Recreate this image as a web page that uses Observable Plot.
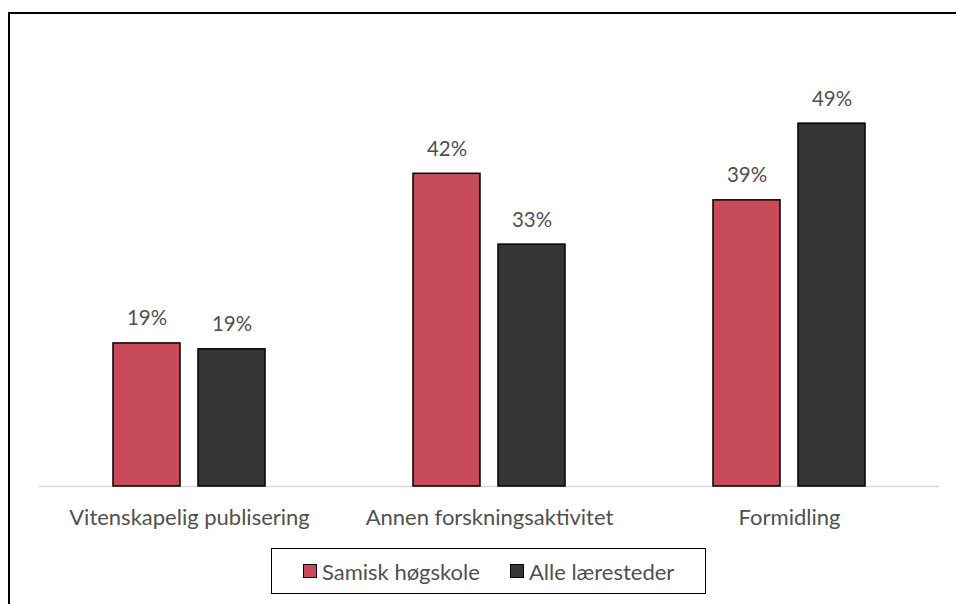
<!DOCTYPE html>
<html><head><meta charset="utf-8">
<script src="https://cdn.jsdelivr.net/npm/d3@7"></script>
<script src="https://cdn.jsdelivr.net/npm/@observablehq/plot@0.6"></script>
<style>
body{margin:0;background:#fff;}
#wrap{position:relative;width:956px;height:604px;overflow:hidden;font-family:Lato,sans-serif;background:#fff;}
#frame{position:absolute;left:8px;top:12px;width:1000px;height:700px;border-top:2px solid #000;border-left:2px solid #000;}
#chart{position:absolute;left:0;top:0;}
#legend{position:absolute;left:271px;top:548px;background:#fff;border:1.5px solid #000;display:flex;align-items:center;padding-left:31px;box-sizing:border-box;width:435px;height:46px;}
.item{display:flex;align-items:center;margin-right:30px;font-size:22px;color:#505050;}
.sw{width:12px;height:12px;border:1.5px solid #000;margin-right:5px;}
</style>
</head><body>
<div id="wrap"><div id="frame"></div><div id="chart"></div><div id="legend"></div></div>
<script>
const categories = ["Vitenskapelig publisering", "Annen forskningsaktivitet", "Formidling"];
const series = ["Samisk høgskole", "Alle læresteder"];
const samisk = [19.4, 42.4, 38.8];
const alle = [18.6, 32.8, 49.2];
const colors = ["#c84b5a", "#363636"];

const values = [samisk, alle];
const data = [];
categories.forEach((c, i) => series.forEach((s, j) => data.push({cat: c, series: s, value: values[j][i]})));

const chart = Plot.plot({
  width: 956, height: 540,
  marginLeft: 38, marginRight: 17, marginTop: 43.5, marginBottom: 54,
  style: {fontFamily: "Lato, sans-serif", background: "transparent"},
  fx: {domain: categories, padding: 0, label: null},
  x: {domain: series, paddingInner: 0.209, paddingOuter: 0.85, axis: null},
  y: {domain: [0, 60], axis: null},
  color: {domain: series, range: colors},
  marks: [
    Plot.ruleY([0], {stroke: "#d9d9d9", strokeWidth: 1.5}),
    Plot.barY(data, {fx: "cat", x: "series", y: "value", fill: "series", stroke: "#000", strokeWidth: 1.5}),
    Plot.text(data, {fx: "cat", x: "series", y: "value", text: d => Math.round(d.value) + "%", lineAnchor: "bottom", dy: -18, fontSize: 20.5, fill: "#505050"}),
    Plot.axisFx({anchor: "bottom", tickSize: 0, tickPadding: 23, fontSize: 22, color: "#505050", label: null})
  ]
});
document.getElementById("chart").appendChild(chart);

const legend = document.getElementById("legend");
series.forEach((s, j) => {
  const it = document.createElement("div"); it.className = "item";
  const sw = document.createElement("div"); sw.className = "sw"; sw.style.background = colors[j];
  const t = document.createElement("span"); t.textContent = s;
  it.appendChild(sw); it.appendChild(t); legend.appendChild(it);
});
</script>
</body></html>
